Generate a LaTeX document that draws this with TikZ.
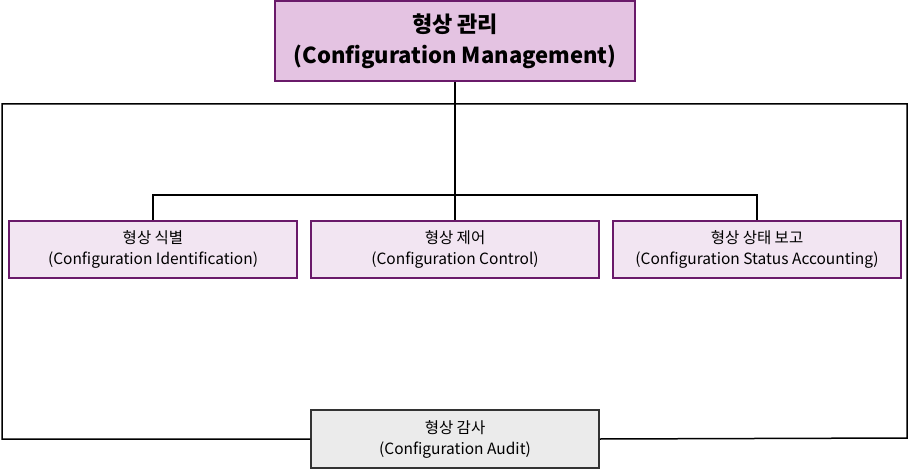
\documentclass[tikz,border=0pt]{standalone}
\usepackage{fontspec}
\setmainfont{Noto Sans CJK KR}
\definecolor{topfill}{HTML}{E4C3E2}
\definecolor{subfill}{HTML}{F2E5F2}
\definecolor{auditfill}{HTML}{EBEBEB}
\definecolor{boxline}{HTML}{6A1A6A}
\begin{document}
\begin{tikzpicture}[x=1pt, y=-1pt, line width=1.5pt,
    every node/.style={align=center, inner sep=0pt},
    subbox/.style={draw=boxline, fill=subfill, minimum width=288pt, minimum height=57pt, font=\fontsize{15.5}{21}\selectfont},
    topbox/.style={draw=boxline, fill=topfill, minimum width=360pt, minimum height=80pt, font=\fontsize{22}{31}\selectfont\bfseries},
    auditbox/.style={draw=black!80, fill=auditfill, minimum width=288pt, minimum height=58pt, font=\fontsize{15.5}{21}\selectfont} ]
        \useasboundingbox (0,0) rectangle (909,470);
        \node[topbox] (cm) at (455,41) {\raisebox{-3pt}{형상 관리}\\\raisebox{-3pt}{(Configuration Management)}};
        \node[subbox] (ci) at (153,249.5) {형상 식별\\(Configuration Identification)};
        \node[subbox] (cc) at (455,249.5) {형상 제어\\(Configuration Control)};
        \node[subbox] (csa) at (757,249.5) {형상 상태 보고\\(Configuration Status Accounting)};
        \node[auditbox] (ca) at (455,439) {형상 감사\\(Configuration Audit)};
        \coordinate (bar) at (455,195);
        \coordinate (ol) at (2,104);
        \coordinate (or) at (907,438);
        \draw (cm.south)--(bar)--(cc.north);
        \draw (ci.north) |- (bar) -| (csa.north);
        \draw (ca.west) -| (ol) -| (or) -- (ca.east);
    \end{tikzpicture}
\end{document}
